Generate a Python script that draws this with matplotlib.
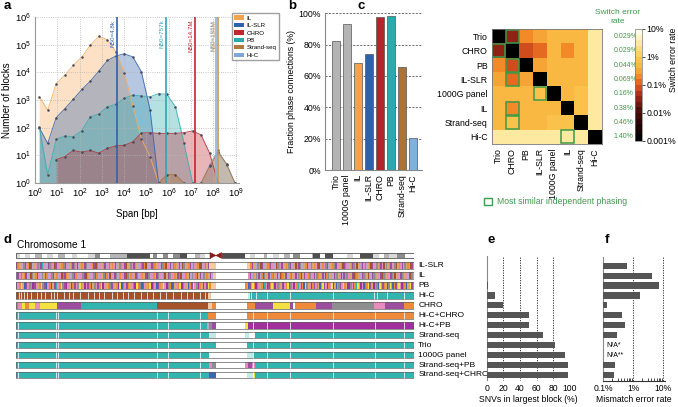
import numpy as np
import matplotlib
matplotlib.use('Agg')
import matplotlib.pyplot as plt
from matplotlib.patches import Rectangle, Polygon, Patch
from matplotlib.colors import LinearSegmentedColormap, ListedColormap

plt.rcParams['font.family'] = ['Liberation Sans', 'DejaVu Sans']

# ---------------- data: panel a ----------------
span_bp = [1.55, 3.7, 8.9, 22, 52, 126, 302, 724, 1780, 4270, 1.02e4, 2.45e4,
           5.9e4, 1.45e5, 3.47e5, 8.3e5, 2.0e6, 4.8e6, 1.17e7, 2.8e7, 6.8e7,
           1.62e8, 3.9e8, 9.3e8]
nan = np.nan
blocks_IL = [1300, 430, 3900, 7800, 1.8e4, 3.6e4, 9.5e4, 2e5, 1.5e5, 5.5e4, 9.5e3,
             600, 40, 9, 1, nan, nan, nan, nan, nan, nan, nan, nan, nan]
blocks_ILSLR = [100, 27, 230, 490, 1050, 2400, 4800, 1.1e4, 2.7e4, 3.9e4, 4.7e4,
                3.6e4, 1.05e4, 440, 1, nan, nan, nan, nan, nan, nan, nan, nan, nan]
blocks_CHRO = [nan, nan, 7, 9, 15, 13, 15, 12, 18, 22, 23, 31, 64, 66, 62, 62, 62,
               66, 76, 55, 12, 1, nan, nan]
blocks_PB = [107, 2, 38, 50, 47, 78, 247, 310, 570, 700, 1150, 1500, 1400, 1300,
             1700, 1600, 560, 28, 1, nan, nan, nan, nan, nan]
blocks_SS = [nan, nan, nan, nan, nan, nan, nan, nan, nan, nan, nan, nan, nan, nan,
             1, 2, 2, 1, nan, 1, 4, 13, 5, 1]
blocks_HiC = [nan, nan, nan, nan, nan, nan, nan, nan, nan, nan, nan, nan, nan, nan,
              nan, nan, nan, nan, nan, 1, 4.5, 15, 4.5, 1]
series_names = ['IL', 'IL-SLR', 'CHRO', 'PB', 'Strand-seq', 'Hi-C']
series_colors = ['#F7AE62', '#3566AE', '#C0323A', '#34AEB3', '#A8743A', '#86A9D4']
n50_values = [4.8e3, 7.57e5, 1.47e7, 1.35e8, 1.56e8]
n50_labels = ['N50=4.8k', 'N50=757k', 'N50=14.7M', 'N50=135M', 'N50=156M']
n50_colors = ['#2F62AE', '#2BA9B0', '#C0272F', '#8FB0DA', '#C59A4E']

# ---------------- data: panel b ----------------
b_methods = ['Trio', '1000G panel', 'IL', 'IL-SLR', 'CHRO', 'PB', 'Strand-seq', 'Hi-C']
b_values = [82.5, 93, 68.5, 74, 97.4, 98.5, 65.5, 20.2]
b_colors = ['#B4B4B4', '#B4B4B4', '#F5A24E', '#2F62AE', '#B8232B', '#2BA9B0', '#A8743A', '#7EB0E0']

# ---------------- data: panel c ----------------
c_methods = ['Trio', 'CHRO', 'PB', 'IL-SLR', '1000G panel', 'IL', 'Strand-seq', 'Hi-C']
c_log_err = [
    [-3.0, -1.45, -0.75, -0.5, -0.3, -0.3, -0.3, 0.55],
    [-1.45, -3.0, -1.15, -0.95, -0.3, -0.7, -0.3, 0.5],
    [-0.75, -1.15, -3.0, -0.5, -0.3, -0.3, -0.3, 0.5],
    [-0.5, -0.95, -0.5, -3.0, -0.3, -0.3, -0.25, 0.5],
    [-0.3, -0.3, -0.3, -0.05, -3.0, -0.3, -0.05, 0.45],
    [-0.3, -0.7, -0.3, -0.3, -0.3, -3.0, -0.05, 0.45],
    [-0.3, -0.1, -0.3, -0.25, -0.05, -0.05, -3.0, 0.4],
    [0.55, 0.5, 0.5, 0.5, 0.45, 0.45, 0.4, -3.0],
]
c_similar = [(0, 1), (1, 0), (2, 1), (3, 1), (4, 3), (5, 1), (6, 1), (7, 5)]
c_switch = ['0.029%', '0.029%', '0.044%', '0.069%', '0.16%', '0.38%', '0.46%', '1.40%']

# ---------------- data: panel d (positions in Mb) ----------------
ideo_ends = [2.7, 5.8, 9.0, 12.1, 16.2, 19.4, 23.5, 26.7, 30.8, 35.0, 38.1, 45.4, 49.6,
             52.7, 58.9, 62.1, 69.4, 84.0, 86.0, 88.1, 92.3, 95.4, 98.5, 102.7, 106.9,
             112.1, 115.2, 118.3, 121.4, 128.7, 143.3, 146.5, 149.6, 154.8, 156.9,
             161.0, 164.2, 167.3, 171.5, 173.5, 177.7, 185.0, 186.0, 190.2, 193.3,
             198.5, 206.9, 211.0, 215.2, 223.5, 226.7, 229.8, 232.9, 238.1, 243.3, 249.0]
ideo_stain = "lwlwmwlwmwlwlgwmmdwgwgwgdwmlwcdwlwmwlwmwgwmdwdwlwdlwmlgw"
centromere = (121.4, 128.7)

track_names = ['IL-SLR', 'IL', 'PB', 'Hi-C', 'CHRO', 'Hi-C+CHRO', 'Hi-C+PB',
               'Strand-seq', 'Trio', '1000G panel', 'Strand-seq+PB', 'Strand-seq+CHRO']
ilslr_left = ("vopalgvpobvlapgovtpalvgopbvlpaogvplaovgpblaopvglapovbglpaovlpgao"
              "pvlagopvbalgpvoalpgvobalpvgoaplvgobapvlgoapvlbgapovlgpaovblpgav")
ilslr_right = ("ovpalgobvplaogvpalbgopvlaopgvlpabovglpaovplgaopvblaopgvlapo"
               "gvlpaobvgplaovgpbalovpglaobvplgaovpblgaovplgbaopvlgaopbvl")
il_left = ("lvpgaovlpbgaovplgavolpgvaolpbgvoalpgvolapgvboalpgvolpagvolbpa"
           "vgloapvbglopavglpoavbglpoavgplobavglpoavgblpoavlgpobavlgpoavl")
il_right = ("pvloagpvlobgapvlogapvlbgoavplogapvlgobavplogapvlgoapvlbogap"
            "lvogapblvogpalvbgoaplvgoabplvgoaplvbgoaplvgobaplvgoaplvbga")
pb_left = ("vpoyaBvpgoVvpaoygvBpoVavtpoygvVpaBovpgyoaVpvoBagpvoyVpaogvp"
           "aoVyBgpvoaptVyogBvpaoyVgpBvoaypVgoBvapoyVgpaBovypgVoaBpvyo")
pb_right = ("oaBvpyoVgpaovtpBvoyaVpgoavBpoyvgpVaotpvoBygapVovpgaBoyvpVo"
            "pyVaBogvpyoaVBgpvotyaVpBgoyvpaVogBypvoaVgypBovaypVgoBpayvo")
multi_tracks = {
    'IL-SLR': (ilslr_left, 0, 121.0, ilslr_right, 146.5, 249,
               [(121.0, 125.2, 'q'), (144.4, 146.5, 'q')]),
    'IL': (il_left, 0, 123.1, il_right, 145.4, 249, [(123.1, 125.2, 'q')]),
    'PB': (pb_left, 0, 122.0, pb_right, 143.3, 249, [(122.0, 125.2, 'q')]),
}
block_tracks = {
    'Hi-C': [(120.4, 'b'), (122.0, 'q'), (145.4, 'n'), (146.5, 'L'), (249, 't')],
    'CHRO': [(1.7, 'g'), (3.75, 'p'), (5.8, 'y'), (8.5, 'o'), (12.1, 'y'), (15.2, 'p'),
             (26.0, 'y'), (40.6, 'v'), (88.1, 't'), (120.4, 'b'), (122.5, 'q'),
             (125.2, 'o'), (144.4, 'n'), (149.6, 'o'), (160.6, 'v'), (171.5, 'y'),
             (173.3, 'v'), (174.6, 'n'), (187.7, 'o'), (197.5, 'v'), (223.9, 'g'),
             (230.8, 'p'), (242.7, 'v'), (249, 'o')],
    'Hi-C+CHRO': [(120.4, 't'), (125.2, 'o'), (144.4, 'n'), (249, 'o')],
    'Hi-C+PB': [(119.4, 't'), (121.0, 'l'), (122.5, 'g'), (125.2, 'v'), (143.3, 'n'),
                (145.4, 'y'), (249, 'V')],
    'Strand-seq': [(121.0, 't'), (125.2, 'L'), (143.3, 'n'), (146.0, 'L'), (149.6, 'n'),
                   (249, 't')],
    'Trio': [(125.2, 't'), (144.4, 'n'), (249, 't')],
    '1000G panel': [(121.0, 't'), (144.4, 'n'), (148.5, 'L'), (249, 't')],
    'Strand-seq+PB': [(121.0, 't'), (122.5, 'p'), (125.2, 'g'), (143.3, 'n'), (145.4, 'p'),
                      (147.5, 'v'), (149.6, 'p'), (249, 't')],
    'Strand-seq+CHRO': [(121.0, 't'), (125.2, 'B'), (144.4, 'n'), (148.5, 'L'),
                        (149.4, 'y'), (249, 't')],
}
hic_white = [2, 3.5, 5, 7, 9.5, 13, 16, 18.5, 22, 24, 26, 30, 33, 36, 40, 45, 49, 52, 55,
             60, 63, 67, 70, 74, 78, 82, 86, 90, 94, 98, 103, 107, 111, 115, 118,
             147, 150, 156.9, 171.5, 198.5, 224, 226, 232, 242.3]
teal_white = [1.7, 25.2, 26.25, 88.1, 95.4, 115.2, 148.5, 156.9, 171.5, 198.5, 224.6, 242.3]

# ---------------- data: panels e, f ----------------
e_values = [0.3, 0.2, 1.2, 9.5, 19.5, 51, 51, 67, 82, 93.5, 97, 98]
f_values = [0.6, 4.3, 7.4, 1.66, 0.13, 0.41, 0.54, 0.29, None, None, 0.25, 0.23]
f_na = {8: 'N/A*', 9: 'N/A**'}

palette = {'o': '#EE8A3A', 'v': '#9B4F9E', 'p': '#E68DBE', 'l': '#BDA4D4', 'a': '#D9A86C',
           'g': '#8E8E8E', 'B': '#3F66B4', 'b': '#A5522A', 'y': '#F2E140', 't': '#33B5AF',
           'L': '#C4E8E5', 'q': '#F5C9A2', 'n': '#FFFFFF', 'V': '#A2309C', 'w': '#FFFFFF'}
ideo_colors = {'w': '#FFFFFF', 'l': '#D9D9D9', 'm': '#B5B5B5', 'g': '#8C8C8C',
               'd': '#505050', 'c': '#FFFFFF'}

green = '#3C9A4A'

fig = plt.figure(figsize=(6.78, 4.07), dpi=100)


def add_axes_px(l, t, r, b):
    return fig.add_axes([l / 678, 1 - b / 407, (r - l) / 678, (b - t) / 407])


# ================= panel a =================
axa = add_axes_px(35, 17, 239, 183)
all_blocks = [blocks_IL, blocks_ILSLR, blocks_CHRO, blocks_PB, blocks_SS, blocks_HiC]
draw_order = [0, 1, 3, 2, 5, 4]
for i in draw_order:
    y = np.array(all_blocks[i], dtype=float)
    x = np.array(span_bp)
    axa.fill_between(x, 1, y, color=series_colors[i], alpha=0.36, lw=0)
    axa.plot(x, y, color=series_colors[i], lw=0.7, alpha=0.85)
    axa.plot(x, y, 'o', ms=1.8, color='#4a4a55', mew=0)
for v, lab, c in zip(n50_values, n50_labels, n50_colors):
    axa.axvline(v, color=c, lw=1.2)
    axa.text(v / 1.12, 8e5, lab, rotation=90, ha='right', va='top', color=c, fontsize=4.5)
axa.set_xscale('log')
axa.set_yscale('log')
axa.set_xlim(1, 10 ** 9.15)
axa.set_ylim(1, 1e6)
axa.set_xticks([10 ** k for k in range(10)])
axa.set_yticks([10 ** k for k in range(7)])
axa.minorticks_off()
axa.grid(True, which='major', ls=':', color='#b5b5b5', lw=0.6)
for s in ['top', 'right']:
    axa.spines[s].set_visible(False)
for s in ['left', 'bottom']:
    axa.spines[s].set_color('#999999')
axa.tick_params(labelsize=6.8, length=0, pad=3)
axa.set_xlabel('Span [bp]', fontsize=7, labelpad=6)
axa.set_ylabel('Number of blocks', fontsize=7, labelpad=2)
handles = [Patch(facecolor=c, edgecolor='none') for c in
           ['#F5A24E', '#2F62AE', '#C0272F', '#2BA9B0', '#B07A3A', '#7EA7D8']]
fig.legend(handles, series_names, loc='upper left', bbox_to_anchor=(232 / 678, 1 - 13 / 407),
           fontsize=4.4, frameon=True, fancybox=False, edgecolor='#888888',
           handlelength=1.6, handleheight=0.7, borderpad=0.4, labelspacing=0.35,
           handletextpad=0.4, borderaxespad=0)

# ================= panel b =================
axb = add_axes_px(325, 13.3, 422, 170)
xb = np.arange(len(b_methods))
axb.bar(xb, b_values, width=0.78, color=b_colors, edgecolor='#555555', lw=0.5, zorder=3)
axb.set_xlim(-0.98, 7.8)
axb.set_ylim(0, 100)
axb.set_yticks([0, 20, 40, 60, 80, 100])
axb.set_yticklabels(['0%', '20%', '40%', '60%', '80%', '100%'])
for yv in [20, 40, 60, 80, 100]:
    axb.axhline(yv, color='#333333', ls=(0, (3, 2)), lw=0.5, zorder=1)
axb.set_xticks(xb)
axb.set_xticklabels(b_methods, rotation=90)
axb.tick_params(labelsize=6.3, length=0, pad=3)
for s in ['top', 'right']:
    axb.spines[s].set_visible(False)
for s in ['left', 'bottom']:
    axb.spines[s].set_color('#888888')
axb.set_ylabel('Fraction phase connections (%)', fontsize=6.3, labelpad=2)

# ================= panel c =================
cmap_base = LinearSegmentedColormap.from_list('sw', [
    (0.0, '#000000'), (0.25, '#4a0c0c'), (0.4, '#a02818'), (0.5, '#e05a1e'),
    (0.58, '#f28a28'), (0.66, '#f9b43e'), (0.75, '#fbc54c'), (0.875, '#fde590'),
    (1.0, '#fffbe8')])
cmap = ListedColormap(cmap_base(np.linspace(0, 1, 20)))
axc = add_axes_px(491.7, 29.3, 601.7, 144)
M = np.array(c_log_err)
im = axc.imshow(M, cmap=cmap, vmin=-3, vmax=1, aspect='auto', interpolation='nearest')
for (r, c) in c_similar:
    axc.add_patch(Rectangle((c - 0.45, r - 0.45), 0.9, 0.9, fill=False, edgecolor=green, lw=1.1))
axc.set_xticks(range(8))
axc.set_yticks(range(8))
axc.set_xticklabels(c_methods, rotation=90)
axc.set_yticklabels(c_methods)
axc.tick_params(labelsize=6.3, length=0, pad=3)
for s in axc.spines.values():
    s.set_color('#777777')
    s.set_linewidth(0.6)
for i, t in enumerate(c_switch):
    axc.text(8.35, i, t, color=green, fontsize=5, va='center', ha='left')
fig.text(618 / 678, 1 - 17 / 407, 'Switch error\nrate', color=green, fontsize=6,
         ha='center', va='center', linespacing=1.3)
cax = add_axes_px(635, 29, 641.7, 141)
cb = fig.colorbar(im, cax=cax, ticks=[-3, -2, -1, 0, 1])
cb.ax.set_yticklabels(['0.001%', '0.01%', '0.1%', '1%', '10%'])
cb.ax.tick_params(labelsize=6.3, length=2, width=0.5, pad=1.5)
cb.outline.set_linewidth(0.5)
cb.outline.set_edgecolor('#777777')
fig.text(673 / 678, 1 - 60 / 407, 'Switch error rate', rotation=90, fontsize=6.3,
         ha='center', va='center')
fig.legend([Patch(facecolor='none', edgecolor=green, lw=1.0)],
           ['Most similar independent phasing'], loc='center',
           bbox_to_anchor=(556 / 678, 1 - 201.7 / 407), frameon=False, fontsize=6.2,
           labelcolor=green, handlelength=0.9, handleheight=0.9, handletextpad=0.6)

# ================= panel d =================
axd = add_axes_px(15.7, 249.8, 414.3, 380.9)
axd.set_xlim(0, 249)
axd.set_ylim(11.6, -1.6)
axd.axis('off')
th = 0.66
start = 0.0
iy = -1.03
ih = 0.57
for end, st in zip(ideo_ends, ideo_stain):
    axd.add_patch(Rectangle((start, iy - ih / 2), end - start, ih, facecolor=ideo_colors[st],
                            edgecolor='none'))
    start = end
axd.add_patch(Rectangle((0, iy - ih / 2), centromere[0], ih, fill=False, edgecolor='#555555', lw=0.6))
axd.add_patch(Rectangle((centromere[1], iy - ih / 2), 249 - centromere[1], ih, fill=False,
                        edgecolor='#555555', lw=0.6))
cm = (centromere[0] + centromere[1]) / 2
axd.add_patch(Polygon([(centromere[0], iy - ih / 2), (centromere[0], iy + ih / 2), (cm, iy)],
                      closed=True, facecolor='#8B1A1A', edgecolor='#8B1A1A', lw=0.5))
axd.add_patch(Polygon([(centromere[1], iy - ih / 2), (centromere[1], iy + ih / 2), (cm, iy)],
                      closed=True, facecolor='#8B1A1A', edgecolor='#8B1A1A', lw=0.5))


def draw_string(row, s, x0, x1):
    w = (x1 - x0) / len(s)
    for k, ch in enumerate(s):
        axd.add_patch(Rectangle((x0 + k * w, row - th / 2), w, th, facecolor=palette[ch],
                                edgecolor='none'))


for row, name in enumerate(track_names):
    if name in multi_tracks:
        ls, l0, l1, rs, r0, r1, extra = multi_tracks[name]
        draw_string(row, ls, l0, l1)
        draw_string(row, rs, r0, r1)
        for a0, a1, ch in extra:
            axd.add_patch(Rectangle((a0, row - th / 2), a1 - a0, th, facecolor=palette[ch],
                                    edgecolor='none'))
    else:
        start = 0.0
        for end, ch in block_tracks[name]:
            axd.add_patch(Rectangle((start, row - th / 2), end - start, th,
                                    facecolor=palette[ch], edgecolor='none'))
            start = end
        whites = hic_white if name == 'Hi-C' else teal_white
        if name != 'CHRO':
            axd.vlines(whites, row - th / 2, row + th / 2, colors='white', lw=0.6, alpha=0.9)
    axd.add_patch(Rectangle((0, row - th / 2), 249, th, fill=False, edgecolor='#606060', lw=0.5))
    axd.text(251.5, row, name, fontsize=6, va='center', ha='left', clip_on=False)

fig.text(17 / 678, 1 - 245 / 407, 'Chromosome 1', fontsize=7.3, va='center', ha='left')

# ================= panel e =================
axe = add_axes_px(486.7, 249.8, 570, 380.9)
rows = np.arange(len(track_names))
axe.barh(rows, e_values, height=0.62, color='#555555', zorder=3)
axe.set_ylim(11.6, -1.6)
axe.set_xlim(0, 100)
axe.vlines([20, 40, 60, 80, 100], -0.9, 11.5, colors='#222222', linestyles=(0, (1.5, 1.5)), lw=0.6,
           zorder=1)
axe.set_xticks([0, 20, 40, 60, 80, 100])
axe.set_yticks([])
for s in ['top', 'right', 'bottom']:
    axe.spines[s].set_visible(False)
axe.spines['left'].set_color('#888888')
axe.spines['left'].set_bounds(-1.0, 11.5)
axe.tick_params(axis='x', labelsize=6.2, length=0, pad=2)
axe.set_xlabel('SNVs in largest block (%)', fontsize=6.2, labelpad=2)

# ================= panel f =================
axf = add_axes_px(603.3, 249.8, 664.5, 380.9)
for r, v in enumerate(f_values):
    if v is not None:
        axf.barh(r, v - 0.1, left=0.1, height=0.62, color='#555555', zorder=3)
for r, t in f_na.items():
    axf.text(0.11 * 1.12, r, t, fontsize=5, va='center', ha='left')
axf.set_xscale('log')
axf.set_xlim(0.1, 11)
axf.set_ylim(11.6, -1.6)
axf.vlines([1, 10], -0.9, 11.6, colors='#222222', linestyles=(0, (1.5, 1.5)), lw=0.6, zorder=1)
axf.set_xticks([0.1, 1, 10])
axf.set_xticklabels(['0.1%', '1%', '10%'])
axf.set_yticks([])
for s in ['top', 'right']:
    axf.spines[s].set_visible(False)
axf.spines['left'].set_color('#888888')
axf.spines['left'].set_bounds(-0.9, 11.6)
axf.spines['bottom'].set_color('#333333')
axf.tick_params(axis='x', which='major', labelsize=6.2, length=0, pad=2)
axf.tick_params(axis='x', which='minor', length=2, direction='in', width=0.5)
axf.set_xlabel('Mismatch error rate', fontsize=6.2, labelpad=2)

# ================= panel letters =================
for lab, (px, py) in {'a': (4, 6), 'b': (288, 6), 'c': (357, 6), 'd': (4, 240),
                      'e': (487, 240), 'f': (605, 240)}.items():
    fig.text(px / 678, 1 - py / 407, lab, fontsize=9.5, fontweight='bold', ha='left', va='center')

fig.savefig('out.png', dpi=100)
